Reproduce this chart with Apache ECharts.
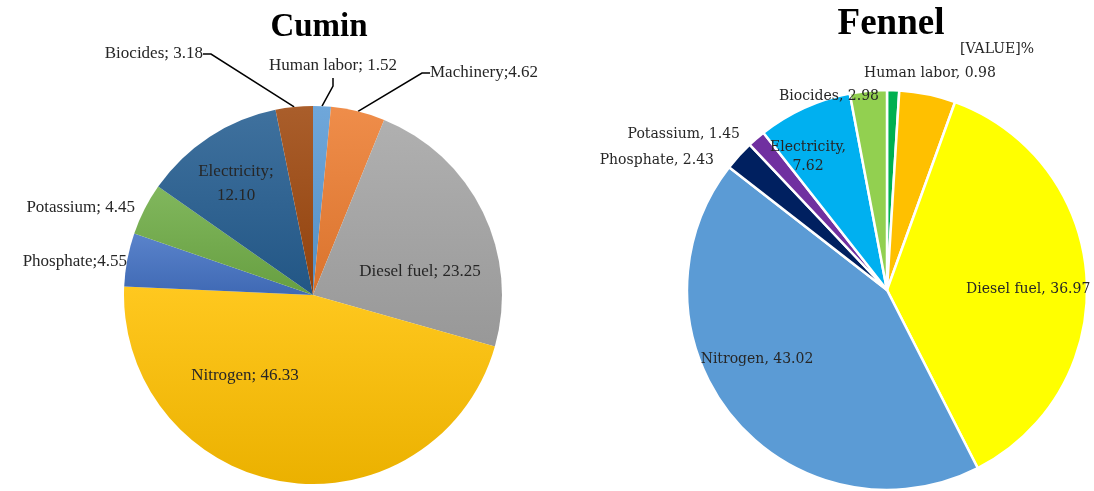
<!DOCTYPE html>
<html><head><meta charset="utf-8">
<script src="https://cdn.jsdelivr.net/npm/echarts@6/dist/echarts.min.js"></script>
<style>html,body{margin:0;padding:0;background:#fff}#c{width:1094px;height:491px}</style>
</head><body><div id="c"></div>
<script>
// ---- data ----
const titles = ['Cumin', 'Fennel'];
const cuminCategories = ['Human labor', 'Machinery', 'Diesel fuel', 'Nitrogen', 'Phosphate', 'Potassium', 'Electricity', 'Biocides'];
const cuminValues = [1.52, 4.62, 23.25, 46.33, 4.55, 4.45, 12.10, 3.18];
const fennelCategories = ['Human labor', 'Machinery', 'Diesel fuel', 'Nitrogen', 'Phosphate', 'Potassium', 'Electricity', 'Biocides'];
const fennelValues = [0.98, 4.55, 36.97, 43.02, 2.43, 1.45, 7.62, 2.98];

// ---- styles ----
const cuminColors = ['#5B9BD5', '#ED7D31', '#A5A5A5', '#FFC000', '#4472C4', '#70AD47', '#255E91', '#9E480E'];
const fennelColors = ['#00B050', '#FFC000', '#FFFF00', '#5B9BD5', '#002060', '#7030A0', '#00B0F0', '#92D050'];

// label placement [x, y, align, leaderLine]
const cuminLabelPos = [
  [333, 66, 'center', true],
  [430, 73, 'left', true],
  [420, 272, 'center', false],
  [245, 376, 'center', false],
  [127, 262, 'right', false],
  [135, 208, 'right', false],
  [236, 184, 'center', false],
  [203, 54, 'right', true]
];
const fennelLabelPos = [
  [930, 73, 'center'],
  [997, 49, 'center'],
  [966, 289, 'left'],
  [757, 359, 'center'],
  [714, 160, 'right'],
  [740, 134, 'right'],
  [808, 157, 'center'],
  [829, 96, 'center']
];

function shade(hex, amt) {
  const n = parseInt(hex.slice(1), 16);
  let r = (n >> 16) & 255, g = (n >> 8) & 255, b = n & 255;
  const f = v => Math.max(0, Math.min(255, Math.round(amt >= 0 ? v + (255 - v) * amt : v * (1 + amt))));
  return 'rgb(' + f(r) + ',' + f(g) + ',' + f(b) + ')';
}

const cuminData = cuminCategories.map((name, i) => ({
  name: name,
  value: cuminValues[i],
  itemStyle: {
    color: new echarts.graphic.LinearGradient(0, 0, 0, 1, [
      { offset: 0, color: shade(cuminColors[i], 0.12) },
      { offset: 1, color: shade(cuminColors[i], -0.08) }
    ])
  },
  labelLine: { show: cuminLabelPos[i][3] }
}));

const fennelData = fennelCategories.map((name, i) => ({
  name: name,
  value: fennelValues[i],
  itemStyle: { color: fennelColors[i] },
  labelLine: { show: false }
}));

function cuminLabel(p) {
  const v = p.value.toFixed(2);
  if (p.name === 'Electricity') return p.name + ';\n' + v;
  if (p.name === 'Machinery' || p.name === 'Phosphate') return p.name + ';' + v;
  return p.name + '; ' + v;
}
function fennelLabel(p) {
  const v = p.value.toFixed(2);
  if (p.name === 'Machinery') return '[VALUE]%';
  if (p.name === 'Electricity') return p.name + ',\n' + v;
  return p.name + ', ' + v;
}

const chart = echarts.init(document.getElementById('c'));
chart.setOption({
  backgroundColor: '#ffffff',
  animation: false,
  title: [
    { text: titles[0], left: 314, top: 6, textAlign: 'center',
      textStyle: { fontFamily: 'Liberation Serif', fontSize: 33, fontWeight: 'bold', color: '#000' } },
    { text: titles[1], left: 886, top: 1, textAlign: 'center',
      textStyle: { fontFamily: 'Liberation Serif', fontSize: 37, fontWeight: 'bold', color: '#000' } }
  ],
  series: [
    {
      type: 'pie',
      center: [313, 295],
      radius: 189,
      startAngle: 90,
      clockwise: true,
      avoidLabelOverlap: false,
      data: cuminData,
      label: {
        position: 'outside',
        formatter: cuminLabel,
        fontFamily: 'Liberation Serif',
        fontSize: 17,
        lineHeight: 24,
        color: '#262626'
      },
      labelLine: { length: 10, length2: 8, lineStyle: { color: '#000', width: 1.5 } },
      labelLayout: function (p) {
        const pos = cuminLabelPos[p.dataIndex];
        return { x: pos[0], y: pos[1], align: pos[2], verticalAlign: 'middle' };
      },
      emphasis: { disabled: true }
    },
    {
      type: 'pie',
      center: [887, 290],
      radius: 200,
      startAngle: 90,
      clockwise: true,
      avoidLabelOverlap: false,
      data: fennelData,
      itemStyle: { borderColor: '#ffffff', borderWidth: 2.5 },
      label: {
        position: 'outside',
        formatter: fennelLabel,
        fontFamily: 'DejaVu Serif',
        fontSize: 14,
        lineHeight: 19,
        color: '#262626'
      },
      labelLayout: function (p) {
        const pos = fennelLabelPos[p.dataIndex];
        return { x: pos[0], y: pos[1], align: pos[2], verticalAlign: 'middle' };
      },
      emphasis: { disabled: true }
    }
  ]
});
</script>
</body></html>
